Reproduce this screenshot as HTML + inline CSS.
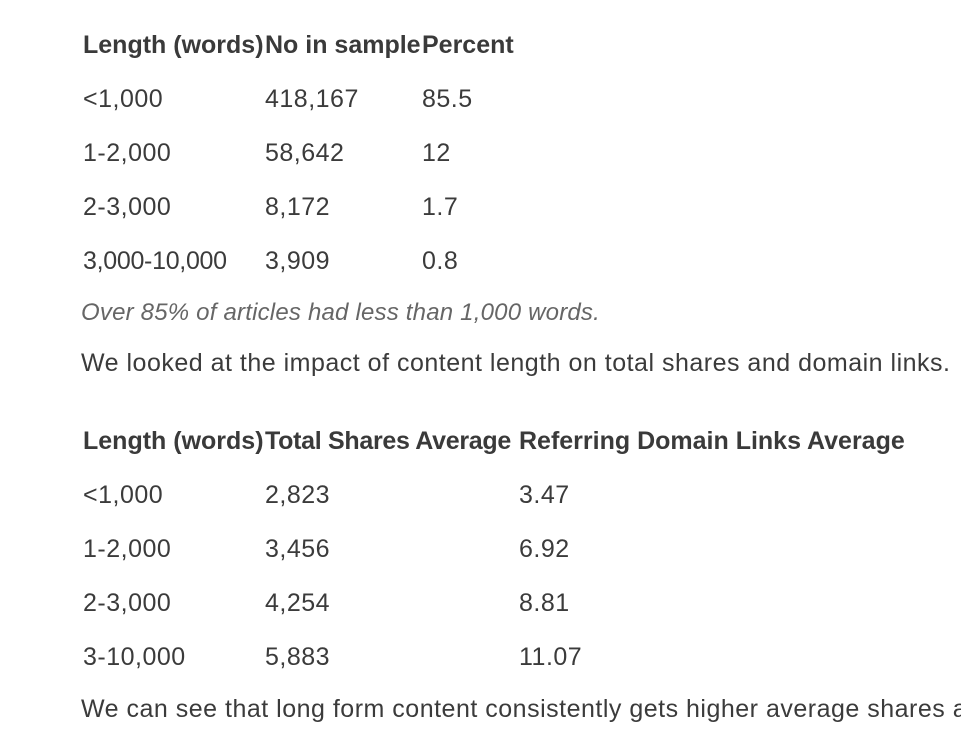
<!DOCTYPE html>
<html><head><meta charset="utf-8"><style>
body{margin:0;width:961px;height:729px;background:#fff;overflow:hidden;font-family:"Liberation Sans",sans-serif;color:#3b3b3b;position:relative}
.t{position:absolute;font-size:25px;line-height:30px;white-space:nowrap;letter-spacing:0.5px}
.b{font-weight:bold;color:#3a3a3a;letter-spacing:0}
.i{font-style:italic;color:#666;font-size:24px;letter-spacing:0.2px}
</style></head><body>
<div>
<div class="t b" style="left:83px;top:30px">Length (words)</div>
<div class="t b" style="left:265px;top:30px">No in sample</div>
<div class="t b" style="left:422px;top:30px">Percent</div>
<div class="t" style="left:83px;top:84px">&lt;1,000</div>
<div class="t" style="left:265px;top:84px">418,167</div>
<div class="t" style="left:422px;top:84px">85.5</div>
<div class="t" style="left:83px;top:138px">1-2,000</div>
<div class="t" style="left:265px;top:138px">58,642</div>
<div class="t" style="left:422px;top:138px">12</div>
<div class="t" style="left:83px;top:192px">2-3,000</div>
<div class="t" style="left:265px;top:192px">8,172</div>
<div class="t" style="left:422px;top:192px">1.7</div>
<div class="t" style="left:83px;top:246px;letter-spacing:-0.3px">3,000-10,000</div>
<div class="t" style="left:265px;top:246px">3,909</div>
<div class="t" style="left:422px;top:246px">0.8</div>
</div>
<div class="t i" style="left:81px;top:298px">Over 85% of articles had less than 1,000 words.</div>
<div class="t" style="left:81px;top:348px">We looked at the impact of content length on total shares and domain links.</div>
<div>
<div class="t b" style="left:83px;top:426px">Length (words)</div>
<div class="t b" style="left:265px;top:426px;letter-spacing:-0.3px">Total Shares Average</div>
<div class="t b" style="left:519px;top:426px">Referring Domain Links Average</div>
<div class="t" style="left:83px;top:480px">&lt;1,000</div>
<div class="t" style="left:265px;top:480px">2,823</div>
<div class="t" style="left:519px;top:480px">3.47</div>
<div class="t" style="left:83px;top:534px">1-2,000</div>
<div class="t" style="left:265px;top:534px">3,456</div>
<div class="t" style="left:519px;top:534px">6.92</div>
<div class="t" style="left:83px;top:588px">2-3,000</div>
<div class="t" style="left:265px;top:588px">4,254</div>
<div class="t" style="left:519px;top:588px">8.81</div>
<div class="t" style="left:83px;top:642px">3-10,000</div>
<div class="t" style="left:265px;top:642px">5,883</div>
<div class="t" style="left:519px;top:642px">11.07</div>
</div>
<div class="t" style="left:81px;top:694px">We can see that long form content consistently gets higher average shares and links.</div>
</body></html>
